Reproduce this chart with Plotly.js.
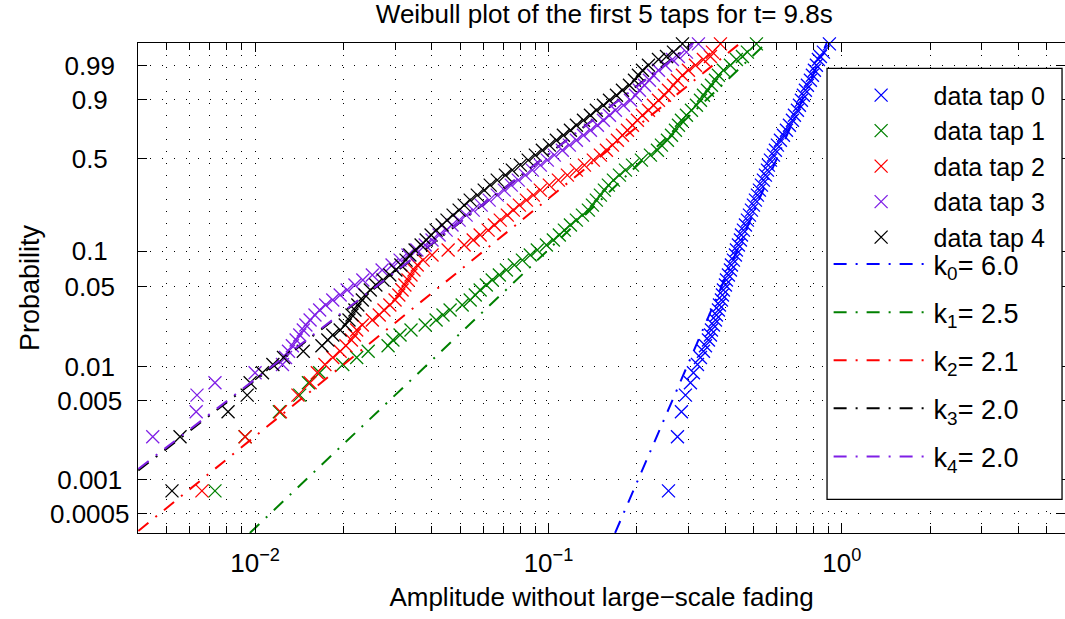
<!DOCTYPE html>
<html>
<head>
<meta charset="utf-8">
<script src="https://cdn.plot.ly/plotly-3.0.1.min.js"></script>
<style>
html,body{margin:0;padding:0;background:#fff;}
#chart{width:1065px;height:619px;}
</style>
</head>
<body>
<div id="chart"></div>
<script>
// Probability levels (plotting positions) shared by all taps
const probLevels = [0.0008, 0.0024, 0.0040, 0.0056, 0.0072, 0.0088, 0.0104, 0.0120, 0.0136, 0.0152,
  0.0171, 0.0189, 0.0209, 0.0231, 0.0256, 0.0283, 0.0312, 0.0345, 0.0381, 0.0421,
  0.0465, 0.0514, 0.0568, 0.0627, 0.0691, 0.0762, 0.0839, 0.0925, 0.1019, 0.1122,
  0.1234, 0.1357, 0.1490, 0.1637, 0.1794, 0.1966, 0.2152, 0.2353, 0.2570, 0.2803,
  0.3050, 0.3316, 0.3597, 0.3896, 0.4211, 0.4538, 0.4881, 0.5236, 0.5598, 0.5969,
  0.6341, 0.6714, 0.7084, 0.7444, 0.7791, 0.8121, 0.8428, 0.8710, 0.8965, 0.9187,
  0.9379, 0.9539, 0.9668, 0.9770, 0.9846, 0.9901, 0.9944, 0.9960, 0.9976, 0.9992];

// Amplitudes read per tap at each probability level
const tap0Amp = [0.2565, 0.2752, 0.2839, 0.2930, 0.3047, 0.3119, 0.3220, 0.3296, 0.3375, 0.3428,
  0.3510, 0.3565, 0.3593, 0.3650, 0.3708, 0.3737, 0.3796, 0.3826, 0.3886, 0.3917,
  0.3947, 0.4010, 0.4042, 0.4105, 0.4170, 0.4203, 0.4270, 0.4337, 0.4371, 0.4440,
  0.4511, 0.4547, 0.4618, 0.4691, 0.4765, 0.4841, 0.4918, 0.4995, 0.5074, 0.5154,
  0.5236, 0.5319, 0.5403, 0.5488, 0.5575, 0.5619, 0.5708, 0.5844, 0.5936, 0.6030,
  0.6174, 0.6321, 0.6472, 0.6626, 0.6784, 0.6891, 0.7055, 0.7167, 0.7279, 0.7394,
  0.7511, 0.7630, 0.7812, 0.7936, 0.8061, 0.8188, 0.8318, 0.8449, 0.8650, 0.9067];

const tap1Amp = [0.00730, 0.00925, 0.0121, 0.0142, 0.0152, 0.0166, 0.0199, 0.0222, 0.0243, 0.0284,
  0.0295, 0.0312, 0.0340, 0.0380, 0.0414, 0.0437, 0.0462, 0.0508, 0.0541, 0.0563,
  0.0585, 0.0614, 0.0643, 0.0680, 0.0719, 0.0765, 0.0815, 0.0867, 0.0916, 0.0984,
  0.1039, 0.1089, 0.1133, 0.1188, 0.1245, 0.1305, 0.1368, 0.1412, 0.1456, 0.1503,
  0.1551, 0.1600, 0.1665, 0.1745, 0.1830, 0.1933, 0.2074, 0.2226, 0.2352, 0.2427,
  0.2544, 0.2626, 0.2709, 0.2774, 0.2839, 0.2953, 0.3071, 0.3194, 0.3296, 0.3375,
  0.3482, 0.3593, 0.3708, 0.3796, 0.3947, 0.4170, 0.4371, 0.4582, 0.4765, 0.5114];

const tap2Amp = [0.00659, 0.00925, 0.0122, 0.0140, 0.0154, 0.0163, 0.0173, 0.0184, 0.0195, 0.0204,
  0.0213, 0.0218, 0.0222, 0.0232, 0.0251, 0.0265, 0.0275, 0.0288, 0.0300, 0.0309,
  0.0317, 0.0324, 0.0332, 0.0340, 0.0348, 0.0357, 0.0374, 0.0401, 0.0455, 0.0516,
  0.0554, 0.0585, 0.0623, 0.0654, 0.0685, 0.0724, 0.0759, 0.0796, 0.0841, 0.0888,
  0.0938, 0.1007, 0.1081, 0.1160, 0.1245, 0.1326, 0.1422, 0.1503, 0.1576, 0.1652,
  0.1718, 0.1787, 0.1859, 0.1933, 0.2010, 0.2091, 0.2192, 0.2280, 0.2371, 0.2485,
  0.2564, 0.2667, 0.2752, 0.2862, 0.2999, 0.3169, 0.3373, 0.3565, 0.3622, 0.3856];

const tap3Amp = [null, 0.00448, 0.00630, 0.00634, 0.00730, 0.0100, 0.0124, 0.0127, 0.0130, 0.0134,
  0.0138, 0.0142, 0.0146, 0.0149, 0.0154, 0.0160, 0.0166, 0.0174, 0.0184, 0.0195,
  0.0206, 0.0219, 0.0233, 0.0251, 0.0271, 0.0293, 0.0312, 0.0332, 0.0356, 0.0380,
  0.0401, 0.0424, 0.0448, 0.0469, 0.0496, 0.0524, 0.0554, 0.0590, 0.0628, 0.0669,
  0.0707, 0.0747, 0.0789, 0.0834, 0.0881, 0.0938, 0.0991, 0.1047, 0.1115, 0.1178,
  0.1245, 0.1316, 0.1390, 0.1468, 0.1539, 0.1614, 0.1691, 0.1801, 0.1903, 0.1979,
  0.2042, 0.2124, 0.2209, 0.2280, 0.2371, 0.2505, 0.2646, 0.2772, 0.2953, 0.3245];

const tap4Amp = [0.00521, 0.00555, 0.00809, 0.00940, 0.00962, 0.0106, 0.0115, 0.0125, 0.0146, 0.0169,
  0.0177, 0.0184, 0.0195, 0.0203, 0.0209, 0.0214, 0.0219, 0.0224, 0.0232, 0.0237,
  0.0247, 0.0258, 0.0273, 0.0288, 0.0302, 0.0314, 0.0327, 0.0337, 0.0351, 0.0368,
  0.0383, 0.0398, 0.0414, 0.0434, 0.0451, 0.0473, 0.0496, 0.0516, 0.0541, 0.0572,
  0.0604, 0.0633, 0.0669, 0.0713, 0.0753, 0.0802, 0.0853, 0.0902, 0.0953, 0.1007,
  0.1064, 0.1124, 0.1188, 0.1245, 0.1316, 0.1390, 0.1456, 0.1539, 0.1614, 0.1705,
  0.1787, 0.1888, 0.1964, 0.2026, 0.2091, 0.2192, 0.2371, 0.2525, 0.2667, 0.2862];

// Fitted Weibull lines: end points (amplitude, probability) read at the axes borders
const fit0Amp = [0.1687, 0.888],  fit0Prob = [0.00034, 0.9993];
const fit1Amp = [0.0096, 0.5525], fit1Prob = [0.00034, 0.9993];
const fit2Amp = [0.0040, 0.4509], fit2Prob = [0.000354, 0.9993];
const fit3Amp = [0.0040, 0.3098], fit3Prob = [0.00121, 0.9993];
const fit4Amp = [0.0040, 0.3120], fit4Prob = [0.00125, 0.9993];

const tapNames = ['data tap 0', 'data tap 1', 'data tap 2', 'data tap 3', 'data tap 4'];
const fitNames = ['k<sub>0</sub>= 6.0', 'k<sub>1</sub>= 2.5', 'k<sub>2</sub>= 2.1', 'k<sub>3</sub>= 2.0', 'k<sub>4</sub>= 2.0'];

const probTicks = [0.0005, 0.001, 0.005, 0.01, 0.05, 0.1, 0.5, 0.9, 0.99];
const probTickText = ['0.0005', '0.001\u00a0', '0.005\u00a0', '0.01\u00a0\u00a0', '0.05\u00a0\u00a0', '0.1\u00a0\u00a0\u00a0', '0.5\u00a0\u00a0\u00a0', '0.9\u00a0\u00a0\u00a0', '0.99\u00a0\u00a0'];
const decadeTicks = [0.01, 0.1, 1];
const decadeText = ['10<sup>\u22122</sup>', '10<sup>\u22121</sup>', '10<sup>0</sup>'];

// Weibull probability scale
const wbl = p => Math.log(-Math.log(1 - p));

const tapColors = ['#0000FF', '#008000', '#FF0000', '#7F1FE6', '#000000'];
const fitColors = ['#0000FF', '#008000', '#FF0000', '#000000', '#7F1FE6'];

const taps = [tap0Amp, tap1Amp, tap2Amp, tap3Amp, tap4Amp];
const fitsA = [fit0Amp, fit1Amp, fit2Amp, fit3Amp, fit4Amp];
const fitsP = [fit0Prob, fit1Prob, fit2Prob, fit3Prob, fit4Prob];

const traces = [];
taps.forEach((amp, i) => {
  traces.push({
    x: amp, y: probLevels.map(wbl), mode: 'markers', name: tapNames[i], type: 'scatter',
    cliponaxis: false, legend: 'legend', legendgroup: 'data',
    marker: {symbol: 'x-thin-open', size: 13, color: tapColors[i], line: {width: 1.3, color: tapColors[i]}}
  });
});
fitsA.forEach((amp, i) => {
  traces.push({
    x: amp, y: fitsP[i].map(wbl), mode: 'lines', name: fitNames[i], type: 'scatter',
    legend: 'legend2', legendgroup: 'fit' + i,
    line: {color: fitColors[i], width: 2, dash: '13px,9px,2px,9px'}
  });
});

// minor log-axis tick positions (2..9 per decade)
const minorVals = [];
[0.001, 0.01, 0.1, 1].forEach(d => {
  for (let m = 2; m <= 9; m++) {
    const v = +(m * d).toPrecision(3);
    if (v > 0.0041 && v < 5.8) minorVals.push(v);
  }
});

const font = 'Liberation Sans, Arial, Helvetica, sans-serif';
const gridDash = '1px,11px';
const legendCommon = {
  xanchor: 'left', yanchor: 'top', bgcolor: 'rgba(0,0,0,0)', borderwidth: 0, itemwidth: 95
};
const layout = {
  width: 1065, height: 619,
  margin: {l: 138, r: 0, t: 43, b: 86, pad: 0},
  paper_bgcolor: '#ffffff', plot_bgcolor: '#ffffff',
  font: {family: font, size: 26, color: '#000'},
  showlegend: true,
  hovermode: false,
  title: {text: 'Weibull plot of the first 5 taps for t= 9.8s', font: {family: font, size: 26, color: '#000'},
          xref: 'paper', x: 0.503, xanchor: 'center', yref: 'container', y: 0.978, yanchor: 'middle'},
  xaxis: {
    type: 'log', range: [-2.399, 0.7605], autorange: false,
    tickmode: 'array', tickvals: decadeTicks, ticktext: decadeText,
    ticks: 'inside', ticklen: 9, tickwidth: 1, tickcolor: '#000',
    minor: {tickmode: 'array', tickvals: minorVals, ticks: 'inside', ticklen: 7, tickwidth: 1, tickcolor: '#000',
            showgrid: true, gridcolor: '#000', gridwidth: 1, griddash: gridDash},
    showline: true, linecolor: '#000', linewidth: 1.3, mirror: 'ticks',
    showgrid: true, gridcolor: '#000', gridwidth: 1, griddash: gridDash,
    zeroline: false, automargin: false, ticklabelstandoff: 6,
    tickfont: {family: font, size: 26},
    title: {text: 'Amplitude without large\u2212scale fading', font: {family: font, size: 26}, standoff: 11}
  },
  yaxis: {
    range: [-7.988, 1.983], autorange: false,
    tickmode: 'array', tickvals: probTicks.map(wbl), ticktext: probTickText,
    ticks: 'inside', ticklen: 9, tickwidth: 1, tickcolor: '#000',
    showline: true, linecolor: '#000', linewidth: 1.3, mirror: 'ticks',
    showgrid: true, gridcolor: '#000', gridwidth: 1, griddash: gridDash,
    zeroline: false, automargin: false, ticklabelstandoff: 2,
    tickfont: {family: font, size: 26},
    title: {text: 'Probability', font: {family: font, size: 27}, standoff: 2}
  },
  // legend frame (single box around both legend parts)
  shapes: [{
    type: 'rect', xref: 'paper', yref: 'paper', layer: 'above',
    x0: 0.7433, x1: 0.9968, y0: 0.0688, y1: 0.9484,
    fillcolor: '#ffffff', line: {color: '#000', width: 1.3}
  }],
  legend: Object.assign({}, legendCommon, {x: 0.745, y: 0.940, tracegroupgap: 0,
    font: {family: font, size: 25, color: '#000'}}),
  legend2: Object.assign({}, legendCommon, {x: 0.745, y: 0.598, tracegroupgap: 10,
    font: {family: font, size: 27, color: '#000'}})
};

Plotly.newPlot('chart', traces, layout, {staticPlot: true, displayModeBar: false});
</script>
</body>
</html>
